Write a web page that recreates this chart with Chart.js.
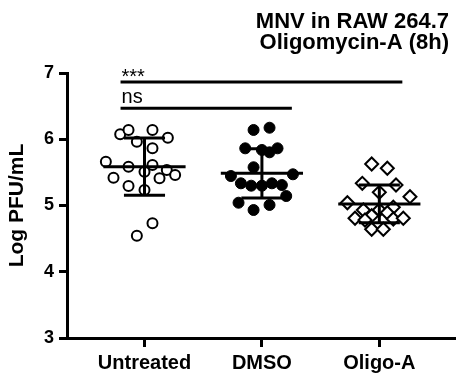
<!DOCTYPE html>
<html>
<head>
<meta charset="utf-8">
<script src="https://cdn.jsdelivr.net/npm/chart.js@4.4.1/dist/chart.umd.min.js"></script>
<style>
html,body{margin:0;padding:0;background:#fff;}
#wrap{width:456px;height:373px;}
</style>
</head>
<body>
<div id="wrap"><canvas id="c" width="456" height="373"></canvas></div>
<script>
const categories = ['Untreated', 'DMSO', 'Oligo-A'];
const titleLines = ['MNV in RAW 264.7', 'Oligomycin-A (8h)'];
const yTitle = 'Log PFU/mL';
const yTicks = [3, 4, 5, 6, 7];

const untreatedY = [6.075, 6.140, 6.140, 5.963, 6.023, 5.863, 5.661, 5.586, 5.611, 5.510, 5.536, 5.460, 5.420, 5.411, 5.294, 5.234, 4.544, 4.731];
const untreatedJitter = [-0.207, -0.136, 0.068, -0.065, 0.199, 0.068, -0.329, -0.136, 0.068, 0, 0.19, 0.261, -0.264, 0.128, -0.136, 0, -0.065, 0.068];
const dmsoY = [6.140, 6.174, 5.863, 5.838, 5.803, 5.863, 5.577, 5.445, 5.471, 5.335, 5.299, 5.299, 5.335, 5.309, 5.143, 5.042, 4.932, 5.008];
const dmsoJitter = [-0.071, 0.065, -0.142, 0, 0.065, 0.133, -0.071, -0.264, 0.264, -0.179, -0.091, 0, 0.085, 0.17, 0.207, -0.199, -0.071, 0.065];
const oligoY = [5.626, 5.562, 5.335, 5.309, 5.199, 5.133, 5.042, 4.932, 4.932, 4.973, 4.846, 4.891, 4.807, 4.781, 4.796, 4.807, 4.641, 4.641];
const oligoJitter = [-0.065, 0.068, -0.145, 0.142, 0, 0.261, -0.272, -0.136, 0, 0.119, -0.065, 0.068, -0.207, -0.122, 0.119, 0.204, -0.065, 0.034];

const groupMean = [5.586, 5.486, 5.023];
const groupSD = [0.433, 0.372, 0.285];

const sigLabels = ['***', 'ns'];
const sigFrom = [0.796, 0.796];
const sigTo = [3.196, 2.255];
const sigY = [6.864, 6.467];

const FONT = "'Liberation Sans', Arial, Helvetica, sans-serif";
const MEAN_HALF = 0.35, CAP_HALF = 0.175;

function pts(ys, jit, g) { return ys.map((y, i) => ({x: g + jit[i], y: y})); }

const lineDs = (data) => ({type: 'line', data, borderColor: '#000', borderWidth: 3, pointRadius: 0, showLine: true, fill: false, borderCapStyle: 'butt', order: 0});

const datasets = [
  {label: categories[0], data: pts(untreatedY, untreatedJitter, 1), pointStyle: 'circle', pointRadius: 5, pointBorderWidth: 2, backgroundColor: '#fff', borderColor: '#000', order: 1},
  {label: categories[1], data: pts(dmsoY, dmsoJitter, 2), pointStyle: 'circle', pointRadius: 5.5, pointBorderWidth: 1, backgroundColor: '#000', borderColor: '#000', order: 1},
  {label: categories[2], data: pts(oligoY, oligoJitter, 3), pointStyle: 'rectRot', pointRadius: 6.5, pointBorderWidth: 2, backgroundColor: '#fff', borderColor: '#000', order: 1}
];
groupMean.forEach((m, i) => {
  const g = i + 1, s = groupSD[i];
  datasets.push(lineDs([{x: g - MEAN_HALF, y: m}, {x: g + MEAN_HALF, y: m}]));
  datasets.push(lineDs([{x: g, y: m - s}, {x: g, y: m + s}]));
  datasets.push(lineDs([{x: g - CAP_HALF, y: m + s}, {x: g + CAP_HALF, y: m + s}]));
  datasets.push(lineDs([{x: g - CAP_HALF, y: m - s}, {x: g + CAP_HALF, y: m - s}]));
});
sigLabels.forEach((l, i) => {
  datasets.push(lineDs([{x: sigFrom[i], y: sigY[i]}, {x: sigTo[i], y: sigY[i]}]));
});

const textPlugin = {
  id: 'texts',
  afterDraw(chart) {
    const ctx = chart.ctx;
    const xs = chart.scales.x, ys = chart.scales.y;
    ctx.save();
    ctx.fillStyle = '#000';
    ctx.font = 'bold 22px ' + FONT;
    ctx.textAlign = 'right';
    ctx.textBaseline = 'alphabetic';
    ctx.fillText(titleLines[0], 449, 28);
    ctx.fillText(titleLines[1], 449, 49);
    ctx.font = '20px ' + FONT;
    ctx.textAlign = 'left';
    sigLabels.forEach((l, i) => {
      const px = xs.getPixelForValue(sigFrom[i]);
      const py = ys.getPixelForValue(sigY[i]);
      ctx.fillText(l, px + 1, py - (l === 'ns' ? 5 : -0.5));
    });
    ctx.restore();
  }
};

new Chart(document.getElementById('c'), {
  type: 'scatter',
  data: {datasets},
  options: {
    responsive: false,
    animation: false,
    devicePixelRatio: 1,
    layout: {autoPadding: false, padding: {top: 73, right: 0, left: 0, bottom: 0}},
    plugins: {legend: {display: false}, tooltip: {enabled: false}, title: {display: false}},
    scales: {
      x: {
        type: 'linear', min: 0.34, max: 3.653,
        afterBuildTicks: (s) => { s.ticks = categories.map((c, i) => ({value: i + 1})); },
        afterFit: (s) => { s.height = 35; s.paddingLeft = 0; s.paddingRight = 0; },
        ticks: {callback: (v) => categories[Math.round(v) - 1], color: '#000', font: {family: FONT, size: 20, weight: 'bold'}, padding: 4, maxRotation: 0, autoSkip: false},
        grid: {drawOnChartArea: false, color: '#000', lineWidth: 3, tickLength: 9, tickColor: '#000', tickWidth: 3},
        border: {display: true, color: '#000', width: 3}
      },
      y: {
        type: 'linear', min: 3, max: 7,
        afterBuildTicks: (s) => { s.ticks = yTicks.map(v => ({value: v})); },
        afterFit: (s) => { s.width = 67; s.paddingTop = 0; s.paddingBottom = 0; },
        ticks: {color: '#000', font: {family: FONT, size: 18, weight: 'bold'}, padding: 5},
        grid: {drawOnChartArea: false, color: '#000', lineWidth: 3, tickLength: 8, tickColor: '#000', tickWidth: 3},
        border: {display: true, color: '#000', width: 3},
        title: {display: true, text: yTitle, color: '#000', font: {family: FONT, size: 21, weight: 'bold'}, padding: {top: 5, bottom: 0}}
      }
    }
  },
  plugins: [textPlugin]
});
</script>
</body>
</html>
